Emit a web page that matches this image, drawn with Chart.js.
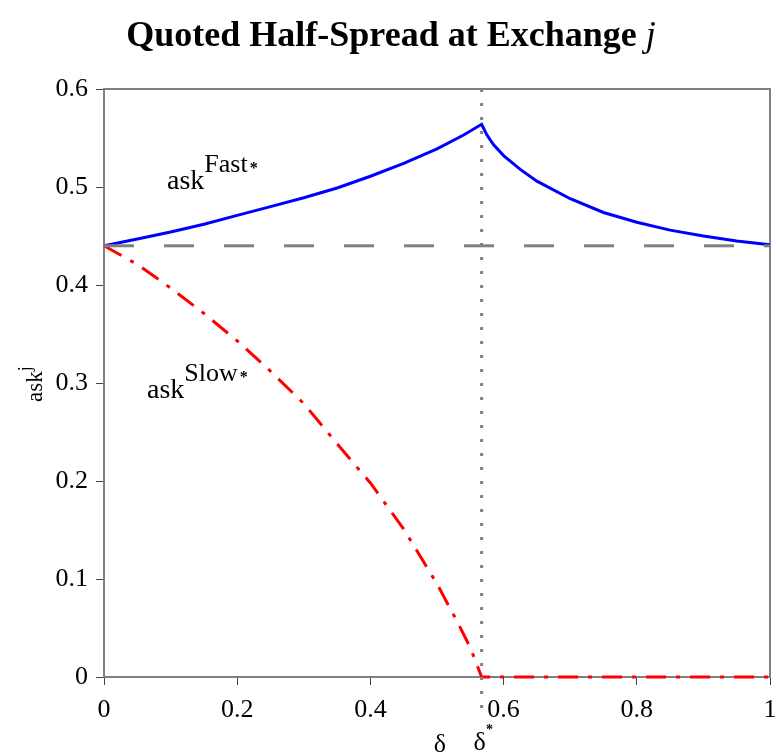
<!DOCTYPE html>
<html>
<head>
<meta charset="utf-8">
<script src="https://cdn.jsdelivr.net/npm/chart.js@4/dist/chart.umd.min.js"></script>
<style>
  html, body { margin: 0; padding: 0; background: #fff; }
  #wrap { width: 777px; height: 754px; }
</style>
</head>
<body>
<div id="wrap"><canvas id="halfSpread" width="777" height="754"></canvas></div>
<script>
// values
let fastX = [0, 0.05, 0.1, 0.15, 0.2, 0.25, 0.3, 0.35, 0.4, 0.45, 0.5, 0.54, 0.567, 0.575, 0.585, 0.6, 0.625, 0.65, 0.7, 0.75, 0.8, 0.85, 0.9, 0.95, 1];
let fastY = [0.44, 0.447, 0.454, 0.462, 0.471, 0.48, 0.489, 0.499, 0.511, 0.524, 0.539, 0.553, 0.564, 0.553, 0.543, 0.532, 0.518, 0.506, 0.488, 0.474, 0.464, 0.456, 0.45, 0.445, 0.441];

let slowX = [0, 0.05, 0.1, 0.15, 0.2, 0.25, 0.3, 0.35, 0.4, 0.45, 0.5, 0.53, 0.55, 0.567, 1];
let slowY = [0.44, 0.421, 0.397, 0.371, 0.343, 0.312, 0.279, 0.238, 0.198, 0.151, 0.095, 0.057, 0.03, 0, 0];

let baseX = [0, 1];
let baseY = [0.44, 0.44];

let deltaStar = 0.567;

let xTickLabels = ["0", "0.2", "0.4", "0.6", "0.8", "1"];
let yTickLabels = ["0", "0.1", "0.2", "0.3", "0.4", "0.5", "0.6"];

let serif = '"Liberation Serif", "DejaVu Serif", serif';

function pts(xs, ys) {
    return xs.map((x, i) => ({ x: x, y: ys[i] }));
}

// title, frame and math labels
let textPlugin = {
    id: 'textPlugin',
    beforeDatasetsDraw(chart) {
        let c = chart.ctx, a = chart.chartArea;
        c.save();
        c.strokeStyle = '#808080';
        c.lineWidth = 2;
        c.beginPath();
        c.moveTo(a.left, a.top);
        c.lineTo(a.right, a.top);
        c.lineTo(a.right, a.bottom);
        c.stroke();
        c.restore();
    },
    afterDraw(chart) {
        let c = chart.ctx;
        c.save();
        c.fillStyle = '#000';
        c.textBaseline = 'alphabetic';

        // title
        let t1 = 'Quoted Half-Spread at Exchange ', t2 = 'j';
        c.font = 'bold 36px ' + serif;
        let w1 = c.measureText(t1).width;
        c.font = 'italic 36px ' + serif;
        let w2 = c.measureText(t2).width;
        let tx = 391 - (w1 + w2) / 2;
        c.font = 'bold 36px ' + serif;
        c.textAlign = 'left';
        c.fillText(t1, tx, 46);
        c.font = 'italic 36px ' + serif;
        c.fillText(t2, tx + w1, 46);

        // curve labels
        function supLabel(base, sup, x, y) {
            c.font = '28px ' + serif;
            c.fillText(base, x, y);
            let bw = c.measureText(base).width;
            c.font = '26px ' + serif;
            c.fillText(sup, x + bw, y - 17);
            let sw = c.measureText(sup).width;
            c.font = 'bold 16px ' + serif;
            c.fillText('*', x + bw + sw + 2, y - 16);
        }
        supLabel('ask', 'Fast', 167, 189);
        supLabel('ask', 'Slow', 147, 398);

        // y axis title
        c.save();
        c.translate(42, 402);
        c.rotate(-Math.PI / 2);
        c.font = '23px ' + serif;
        c.fillText('ask', 0, 0);
        let aw = c.measureText('ask').width;
        c.font = '18px ' + serif;
        c.fillText('j', aw, -11);
        c.restore();

        // x axis labels
        let xs = chart.scales.x;
        c.font = '26px ' + serif;
        c.textAlign = 'center';
        c.fillText('\u03b4', 440, 752);
        let sx = xs.getPixelForValue(deltaStar);
        c.fillText('\u03b4', sx - 2, 750);
        c.font = 'bold 14px ' + serif;
        c.fillText('*', sx + 8, 734);
        c.restore();
    }
};

let ctxHalf = document.getElementById('halfSpread');

let chartHalf = new Chart(ctxHalf, {
    type: 'line',
    data: {
        datasets: [
            {
                label: 'base',
                data: pts(baseX, baseY),
                borderColor: '#808080',
                borderWidth: 3,
                borderDash: [30, 30],
                pointRadius: 0,
                tension: 0
            },
            {
                label: 'delta star',
                data: [{ x: deltaStar, y: 0.6 }, { x: deltaStar, y: -0.035 }],
                borderColor: '#808080',
                borderWidth: 3,
                borderDash: [3, 11],
                pointRadius: 0,
                clip: false
            },
            {
                label: 'Fast',
                data: pts(fastX, fastY),
                borderColor: '#0000ff',
                borderWidth: 3,
                pointRadius: 0,
                tension: 0
            },
            {
                label: 'Slow',
                data: pts(slowX, slowY),
                borderColor: '#ff0000',
                borderWidth: 3,
                borderDash: [20, 10, 4, 10],
                pointRadius: 0,
                tension: 0,
                clip: false
            }
        ]
    },
    options: {
        responsive: false,
        animation: false,
        layout: { padding: { top: 89, right: 7, left: 0, bottom: 0 } },
        plugins: {
            legend: { display: false },
            title: { display: false },
            tooltip: { enabled: false }
        },
        scales: {
            x: {
                type: 'linear',
                min: 0,
                max: 1,
                afterFit: (s) => { s.height = 77; s.paddingLeft = 0; s.paddingRight = 0; },
                border: { color: '#808080', width: 2 },
                grid: { drawOnChartArea: false, tickLength: 8, color: '#444' },
                ticks: {
                    stepSize: 0.2,
                    padding: 10,
                    color: '#000',
                    font: { family: serif, size: 26 },
                    maxRotation: 0,
                    callback: (v) => xTickLabels[Math.round(v * 5)]
                }
            },
            y: {
                min: 0,
                max: 0.6,
                afterFit: (s) => { s.width = 104; s.paddingTop = 0; s.paddingBottom = 0; },
                border: { color: '#808080', width: 2 },
                grid: { drawOnChartArea: false, tickLength: 8, color: '#444' },
                ticks: {
                    stepSize: 0.1,
                    padding: 8,
                    color: '#000',
                    font: { family: serif, size: 26 },
                    callback: (v) => yTickLabels[Math.round(v * 10)]
                }
            }
        }
    },
    plugins: [textPlugin]
});
</script>
</body>
</html>
